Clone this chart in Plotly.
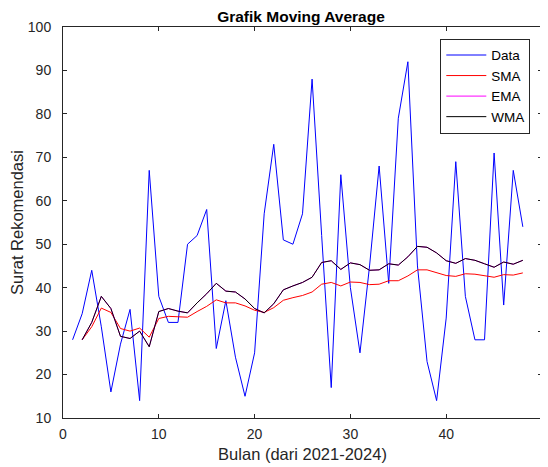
import plotly.graph_objects as go

bulan = list(range(1, 49))
data = [28, 34, 44, 31, 16, 27, 35, 14, 67, 38, 32, 32, 50, 52, 58, 26, 37, 24, 15, 25,
        57, 73, 51, 50, 57, 88, 52, 17, 66, 40, 25, 45, 68, 41, 79, 92, 45, 23, 14, 33,
        69, 38, 28, 28, 71, 36, 67, 54]
bulan_ma = list(range(2, 49))
sma = [28.0, 31.0, 35.3, 34.3, 30.6, 30.0, 30.7, 28.6, 32.9, 33.4, 33.3, 33.2, 34.5, 35.7,
       37.2, 36.5, 36.5, 35.8, 34.8, 34.3, 35.4, 37.1, 37.7, 38.2, 39.0, 40.8, 41.2, 40.4,
       41.3, 41.2, 40.7, 40.8, 41.6, 41.6, 42.7, 44.1, 44.1, 43.5, 42.8, 42.6, 43.2, 43.1,
       42.7, 42.4, 43.0, 42.9, 43.4]
wma = [28.0, 32.0, 38.0, 35.2, 28.8, 28.3, 30.0, 26.4, 34.5, 35.2, 34.6, 34.2, 36.5, 38.6,
       41.0, 39.2, 39.0, 37.4, 35.2, 34.2, 36.3, 39.5, 40.4, 41.2, 42.4, 45.8, 46.2, 44.2,
       45.7, 45.3, 44.0, 44.1, 45.5, 45.2, 47.1, 49.5, 49.3, 48.0, 46.2, 45.6, 46.7, 46.3,
       45.5, 44.7, 45.9, 45.4, 46.3]
ema = list(wma)  # EMA line is hidden beneath WMA in the reference

FONT = "Liberation Sans, Arial, Helvetica, sans-serif"
AX = "#262626"

fig = go.Figure()
fig.add_trace(go.Scatter(x=bulan, y=data, mode="lines", name="Data",
                         line=dict(color="#0000FF", width=1)))
fig.add_trace(go.Scatter(x=bulan_ma, y=sma, mode="lines", name="SMA",
                         line=dict(color="#FF0000", width=1)))
fig.add_trace(go.Scatter(x=bulan_ma, y=ema, mode="lines", name="EMA",
                         line=dict(color="#FF00FF", width=1)))
fig.add_trace(go.Scatter(x=bulan_ma, y=wma, mode="lines", name="WMA",
                         line=dict(color="#000000", width=1)))

axis_common = dict(
    showgrid=False, zeroline=False, showline=True, linecolor=AX, linewidth=1,
    mirror="ticks", ticks="inside", ticklen=4, tickcolor=AX, tickwidth=1,
    tickfont=dict(family=FONT, size=14, color=AX), automargin=False,
)

# the page body has an 8px margin, so the figure is 540x459
fig.update_layout(
    width=540, height=459,
    margin=dict(l=55, r=6, t=19, b=49),
    paper_bgcolor="white", plot_bgcolor="white",
    font=dict(family=FONT, color=AX),
    title=dict(text="<b>Grafik Moving Average</b>", x=0.5426, xanchor="center",
               y=0.981, yanchor="middle", yref="container", pad=dict(t=0, b=0),
               font=dict(family=FONT, size=15.5, color="#000000")),
    xaxis=dict(range=[0, 50], dtick=10, tick0=0, ticklabelstandoff=3,
               title=dict(text="Bulan (dari 2021-2024)", standoff=7,
                          font=dict(family=FONT, size=16.5, color=AX)),
               **axis_common),
    yaxis=dict(range=[10, 100], dtick=10, tick0=0, ticklabelstandoff=8,
               title=dict(text="Surat Rekomendasi", standoff=0,
                          font=dict(family=FONT, size=16.5, color=AX)),
               **axis_common),
    legend=dict(x=0.9756, xanchor="right", y=0.970, yanchor="top",
                bgcolor="white", bordercolor="#262626", borderwidth=1,
                font=dict(family=FONT, size=13.5, color="#000000"),
                tracegroupgap=0, itemwidth=40),
    showlegend=True,
)

fig.write_html("out.html")
